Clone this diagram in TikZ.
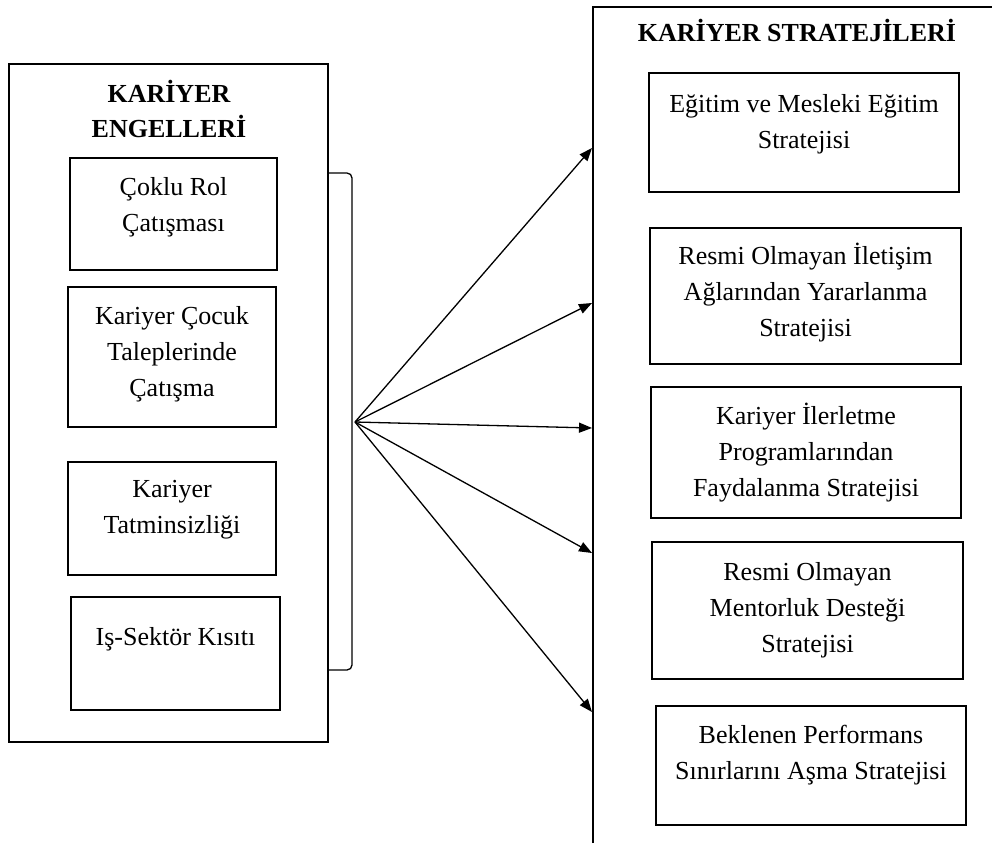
\documentclass[tikz,border=0pt]{standalone}
\usepackage{fontspec}
\setmainfont{Liberation Serif}
\usetikzlibrary{arrows.meta}

\tikzset{
  cell/.style={draw, line width=1.3pt, inner sep=0pt},
  celltext/.style={font=\fontsize{26}{36}\selectfont, align=center, inner sep=0pt, anchor=north},
  celltitle/.style={celltext, font=\fontsize{26}{35}\selectfont\bfseries}
}

\begin{document}
\begin{tikzpicture}[x=1pt, y=-1pt, line width=1.3pt, >={Triangle[length=13pt,width=10pt]}]
  \useasboundingbox (0,0) rectangle (992,843);

  % engeller
  \node[cell, minimum width=319pt, minimum height=678pt] (engel) at (168.5,403) {};
  \node[celltitle] (engel-t) at (169,80) {KARİYER\\ENGELLERİ};

  \node[cell, minimum width=207pt, minimum height=112pt] (engel-1) at (173.5,214) {};
  \node[cell, minimum width=208pt, minimum height=140pt] (engel-2) at (172,357) {};
  \node[cell, minimum width=208pt, minimum height=113pt] (engel-3) at (172,518.5) {};
  \node[cell, minimum width=209pt, minimum height=113pt] (engel-4) at (175.5,653.5) {};

  {\node[celltext] (engel-1-t) at ([yshift=-19pt]engel-1.north) {Çoklu Rol\\Çatışması};};
  {\node[celltext] (engel-2-t) at ([yshift=-19pt]engel-2.north) {Kariyer Çocuk\\Taleplerinde\\Çatışma};};
  {\node[celltext] (engel-3-t) at ([yshift=-18pt]engel-3.north) {Kariyer\\Tatminsizliği};};
  {\node[celltext] (engel-4-t) at ([yshift=-30pt]engel-4.north) {Iş-Sektör Kısıtı};};

  % parantez
  \coordinate (brace-top) at (352,173);
  \coordinate (brace-bot) at (352,670);
  \draw[rounded corners=5pt] (engel.east |- brace-top) -- (brace-top)
    -- (brace-bot) -- (engel.east |- brace-bot);

  % stratejiler
  \coordinate (strat) at (593,7);
  \draw (strat |- 0,843) -- (strat) -- (992,7);
  \node[celltitle] (strat-t) at (797,19) {KARİYER STRATEJİLERİ};

  \node[cell, minimum width=310pt, minimum height=119pt] (strat-1) at (804,132.5) {};
  \node[cell, minimum width=311pt, minimum height=136pt] (strat-2) at (805.5,296) {};
  \node[cell, minimum width=310pt, minimum height=131pt] (strat-3) at (806,452.5) {};
  \node[cell, minimum width=311pt, minimum height=137pt] (strat-4) at (807.5,610.5) {};
  \node[cell, minimum width=310pt, minimum height=119pt] (strat-5) at (811,765.5) {};

  {\node[celltext] (strat-1-t) at ([yshift=-21pt]strat-1.north) {Eğitim ve Mesleki Eğitim\\Stratejisi};};
  {\node[celltext] (strat-2-t) at ([yshift=-15pt]strat-2.north) {Resmi Olmayan İletişim\\Ağlarından Yararlanma\\Stratejisi};};
  {\node[celltext] (strat-3-t) at ([yshift=-16pt]strat-3.north) {Kariyer İlerletme\\Programlarından\\Faydalanma Stratejisi};};
  {\node[celltext] (strat-4-t) at ([yshift=-20pt]strat-4.north) {Resmi Olmayan\\Mentorluk Desteği\\Stratejisi};};
  {\node[celltext] (strat-5-t) at ([yshift=-19pt]strat-5.north) {Beklenen Performans\\Sınırlarını Aşma Stratejisi};};

  % oklar
  \coordinate (fan) at (355,422);
  \coordinate (tip-1) at (592,148);
  \coordinate (tip-2) at (592,303);
  \coordinate (tip-3) at (592,428);
  \coordinate (tip-4) at (592,553);
  \coordinate (tip-5) at (592,712);
  \path[->] (fan) edge (tip-1)
                  edge (tip-2)
                  edge (tip-3)
                  edge (tip-4)
                  edge (tip-5);
\end{tikzpicture}
\end{document}
